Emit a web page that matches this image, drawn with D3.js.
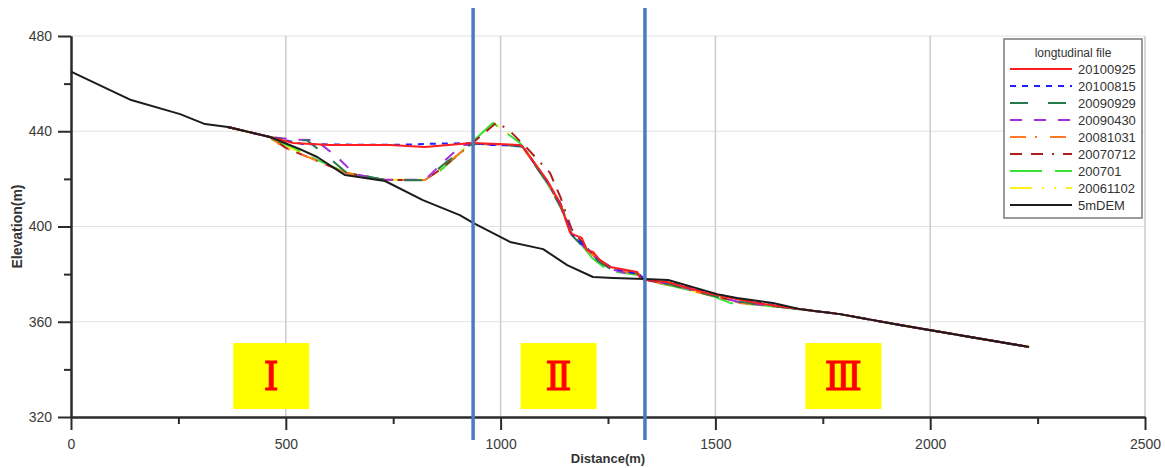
<!DOCTYPE html>
<html>
<head>
<meta charset="utf-8">
<script src="https://cdn.jsdelivr.net/npm/d3@7"></script>
<style>
  body { margin: 0; background: #fff; }
  text { font-family: "Liberation Sans", Arial, sans-serif; }
</style>
</head>
<body>
<div id="chart"></div>
<script>
// profile data: [distance (m), elevation (m)]
const dem5m = [[0,465],[140,453.1],[254,447.2],[312,443],[365,441.8],[463,437.6],[533,432.5],[573,429.2],[638,421.6],
  [731,419.1],[819,411.1],[905,404.8],[936,401.5],[1022,393.5],[1099,390.5],[1155,383.8],[1215,378.8],[1262,378.4],
  [1336,378],[1390,377.5],[1504,371.6],[1550,370],[1634,367.9],[1697,365.3],[1790,363.2],[1930,358.6],[2230,349.4]];

const p20100925 = [[365,441.8],[463,437.6],[517,435.1],[603,434.2],[743,434.2],[824,433.4],[933,435.1],[1045,434.2],
  [1052,433.4],[1108,419.5],[1138,409.9],[1162,397.3],[1173,396.4],[1189,395.2],[1201,390.1],[1215,389.3],[1231,385.9],
  [1255,383],[1318,380.9],[1325,378.4],[1336,377.5],[1387,376.7],[1480,372.1],[1597,367.9],[1697,365.3],[1790,363.2],
  [1930,358.6],[2230,349.4]];

const p20100815 = [[365,441.8],[463,437.6],[540,434.6],[620,434.4],[760,434.3],[850,434.8],[935,435],[980,434.2],
  [1050,434],[1108,419],[1140,409],[1165,397],[1200,391],[1230,386],[1260,382.5],[1320,380],[1336,377.6],[1400,376.2],
  [1480,372.3],[1600,368],[1697,365.3],[1790,363.2],[1930,358.6],[2230,349.4]];

const p20090929 = [[365,441.8],[463,437.6],[500,436.4],[549,436.2],[600,429],[640,422.8],[731,419.5],[824,419.4],
  [870,426.5],[933,434.8],[1000,434.5],[1050,433.5],[1110,418],[1140,408],[1165,396.5],[1200,390],[1230,385],
  [1260,381.8],[1320,380.2],[1336,377.3],[1400,375.5],[1480,371.5],[1550,368.6],[1650,366.2],[1700,365.2],
  [1790,363.2],[1930,358.6],[2230,349.4]];

const p20090430 = [[365,441.8],[463,437.6],[520,436.5],[570,436.2],[622,428.8],[660,422],[731,419.6],[824,419.6],
  [877,428.8],[910,434.2],[1000,434.6],[1050,433.8],[1108,419],[1140,409.5],[1165,397],[1200,390.5],[1230,385.5],
  [1260,382],[1300,380],[1325,379.5],[1336,377.8],[1400,375.6],[1480,371.8],[1560,368],[1650,366.5],[1700,365.3],
  [1790,363.2],[1930,358.6],[2230,349.4]];

const p20081031 = [[365,441.8],[463,437.6],[493,433.4],[556,428.8],[640,422.5],[700,420],[731,419.6],[824,419.5],
  [870,425.8],[929,434.2],[1000,434.6],[1050,433.6],[1110,418.5],[1140,408.5],[1165,396.5],[1200,390.2],[1230,385.6],
  [1260,382],[1320,380],[1336,377.5],[1400,375.3],[1480,371.4],[1560,367.8],[1650,366.2],[1700,365.2],[1790,363.2],
  [1930,358.6],[2230,349.4]];

const p20070712 = [[365,441.8],[463,437.6],[500,433],[560,428.5],[640,422.5],[731,419.5],[824,419.5],[858,423.7],
  [933,434.8],[992,443.9],[1026,439.3],[1061,433],[1115,422.5],[1140,412],[1165,399],[1200,391],[1230,386],
  [1260,382.5],[1320,380.3],[1336,377.6],[1400,375.4],[1480,371.6],[1560,368],[1650,366.3],[1700,365.2],
  [1790,363.2],[1930,358.6],[2230,349.4]];

const p200701 = [[365,441.8],[463,437.6],[470,436.3],[516,433.4],[560,429],[640,422.6],[731,419.5],[824,419.6],
  [860,423.5],[940,436.5],[982,443.5],[1045,435.1],[1100,420.5],[1140,409],[1165,397],[1190,392],[1213,386.8],
  [1240,383],[1271,380.9],[1320,379.6],[1336,377.4],[1400,375],[1457,372.5],[1494,370.8],[1534,367.9],[1604,367],
  [1644,366.2],[1700,365.1],[1790,363.2],[1930,358.6],[2230,349.4]];

const p20061102 = [[365,441.8],[463,437.6],[500,434],[560,429],[640,422.7],[731,419.6],[824,419.6],[865,424.5],
  [940,437],[985,443.2],[1045,435.5],[1105,420],[1140,409.5],[1165,397.5],[1200,391],[1230,386.2],[1260,382.2],
  [1320,380.4],[1336,377.6],[1400,375.3],[1480,371.3],[1560,368],[1620,367.1],[1680,365.8],[1790,363.2],
  [1930,358.6],[2230,349.4]];

const seriesNames = ["20100925","20100815","20090929","20090430","20081031","20070712","200701","20061102","5mDEM"];
const seriesData = [p20100925,p20100815,p20090929,p20090430,p20081031,p20070712,p200701,p20061102,dem5m];
const seriesColors = ["#ff1e1e","#1f1fff","#277a4c","#a32fd6","#ff7a22","#ad1f1f","#39e239","#fff01c","#1c1c1c"];
const seriesDash = [null,"6,6","18,20","12,12","16,9,2,13","12,9,12,9,2,9","32,13","22,10,2,10,2,10",null];

const xTicks = [0,500,1000,1500,2000,2500];
const yTicks = [320,360,400,440,480];
const zoneBounds = [936, 1336];
const zoneLabels = ["Ⅰ","Ⅱ","Ⅲ"];
const zoneCenters = [466, 1135, 1798];

const W = 1165, H = 468;
const svg = d3.select("#chart").append("svg").attr("width", W).attr("height", H);

const x = d3.scaleLinear().domain([0, 2500]).range([71, 1145]);
const y = d3.scaleLinear().domain([320, 480]).range([417, 36]);

// grid
svg.append("g").selectAll("line").data(yTicks.filter(d => d > 320)).enter().append("line")
  .attr("x1", x(0)).attr("x2", x(2500)).attr("y1", d => y(d)).attr("y2", d => y(d))
  .attr("stroke", "#e2e2e2").attr("stroke-width", 1.2);
svg.append("g").selectAll("line").data(xTicks.filter(d => d > 0)).enter().append("line")
  .attr("x1", d => x(d)).attr("x2", d => x(d)).attr("y1", y(480)).attr("y2", y(320))
  .attr("stroke", "#cfcfcf").attr("stroke-width", 1.6);

// axes (minor first, then major)
const xMinor = svg.append("g").attr("transform", `translate(0,${y(320)})`)
  .call(d3.axisBottom(x).tickValues(d3.range(250, 2500, 500)).tickSize(7).tickSizeOuter(0).tickFormat(""));
const yMinor = svg.append("g").attr("transform", `translate(${x(0)},0)`)
  .call(d3.axisLeft(y).tickValues([340,380,420,460]).tickSize(7).tickSizeOuter(0).tickFormat(""));
const xAxis = svg.append("g").attr("transform", `translate(0,${y(320)})`)
  .call(d3.axisBottom(x).tickValues(xTicks).tickSize(13).tickSizeOuter(0).tickPadding(9).tickFormat(d3.format("d")));
const yAxis = svg.append("g").attr("transform", `translate(${x(0)},0)`)
  .call(d3.axisLeft(y).tickValues(yTicks).tickSize(13).tickSizeOuter(0).tickPadding(6).tickFormat(d3.format("d")));

[xMinor, yMinor, xAxis, yAxis].forEach(g => {
  g.selectAll("path, line").attr("stroke", "#2b2b2b").attr("stroke-width", 2);
  g.selectAll("text").attr("fill", "#3a3a3a").style("font-size", "14px")
    .style("font-family", "'Liberation Sans', Arial, sans-serif");
});

svg.append("text").attr("x", (x(0) + x(2500)) / 2).attr("y", 463).attr("text-anchor", "middle")
  .attr("font-weight", "bold").attr("font-size", 13).attr("fill", "#333").text("Distance(m)");
svg.append("text").attr("transform", `translate(22,${(y(320) + y(480)) / 2}) rotate(-90)`)
  .attr("text-anchor", "middle").attr("font-weight", "bold").attr("font-size", 14).attr("fill", "#333")
  .text("Elevation(m)");

// profiles
const line = d3.line().x(d => x(d[0])).y(d => y(d[1]));
const order = [7,6,5,4,3,2,1,0,8];
svg.append("g").selectAll("path").data(order).enter().append("path")
  .attr("d", i => line(seriesData[i]))
  .attr("fill", "none")
  .attr("stroke", i => seriesColors[i])
  .attr("stroke-width", 2)
  .attr("stroke-dasharray", i => seriesDash[i])
  .attr("stroke-linejoin", "round");

// zone boundaries
svg.append("g").selectAll("line").data(zoneBounds).enter().append("line")
  .attr("x1", d => x(d)).attr("x2", d => x(d)).attr("y1", 8).attr("y2", 440)
  .attr("stroke", "#4a7dbf").attr("stroke-width", 3.5);

// zone labels
const zones = svg.append("g").selectAll("g").data(zoneLabels).enter().append("g")
  .attr("transform", (d, i) => `translate(${x(zoneCenters[i])},${y(337.2)})`);
zones.append("rect").attr("x", -38).attr("y", -33).attr("width", 76).attr("height", 66).attr("fill", "#ffff00");
zones.append("text").attr("text-anchor", "middle").attr("dy", "0.36em")
  .style("font-family", "'DejaVu Serif', 'Liberation Serif', serif").style("font-size", "39px")
  .attr("fill", "#ff0000").attr("stroke", "#ff0000").attr("stroke-width", 1)
  .text(d => d);

// legend
const lg = svg.append("g");
lg.append("rect").attr("x", 1004).attr("y", 39).attr("width", 138).attr("height", 179)
  .attr("fill", "#fff").attr("stroke", "#7a7a7a").attr("stroke-width", 1.5);
lg.append("text").attr("x", 1073).attr("y", 53).attr("dy", "0.35em").attr("text-anchor", "middle")
  .attr("font-size", 12).attr("fill", "#333").text("longtudinal file");
const items = lg.selectAll("g.item").data(seriesNames).enter().append("g")
  .attr("transform", (d, i) => `translate(0,${69 + i * 17})`);
items.append("line").attr("x1", 1010).attr("x2", 1072)
  .attr("stroke", (d, i) => seriesColors[i]).attr("stroke-width", 2)
  .attr("stroke-dasharray", (d, i) => seriesDash[i]);
items.append("text").attr("x", 1078).attr("dy", "0.35em").attr("font-size", 13).attr("fill", "#333")
  .text(d => d);
</script>
</body>
</html>
